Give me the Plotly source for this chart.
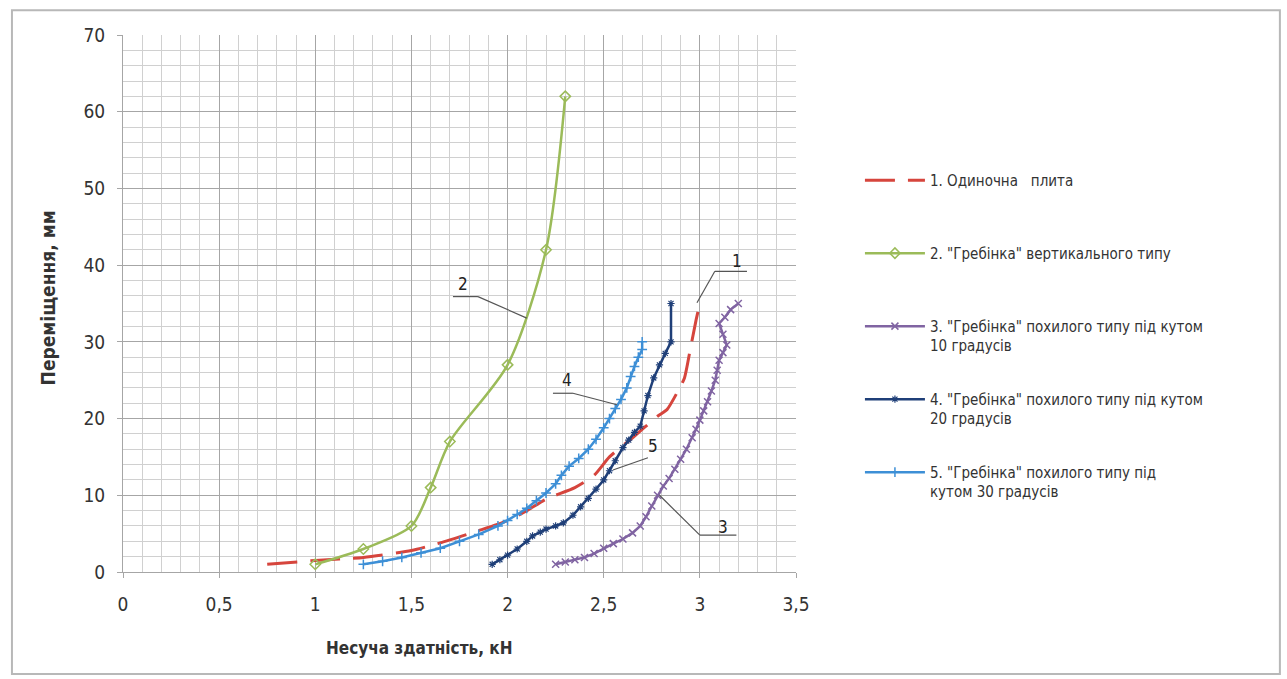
import plotly.graph_objects as go

# ---- data ----
s1_name = "1. Одиночна   плита"
s1_x = [0.75, 1.0, 1.25, 1.5, 1.65, 1.85, 2.0, 2.1, 2.2, 2.35, 2.45, 2.53, 2.65, 2.78, 2.83, 2.88, 2.92, 2.95, 2.98, 3.0]
s1_y = [1.0, 1.5, 1.9, 2.8, 3.8, 5.4, 6.7, 8.0, 9.5, 11.0, 12.6, 15.0, 17.5, 20.3, 21.2, 23.3, 25.3, 29.0, 32.8, 35.0]

s2_name = "2. \"Гребінка\" вертикального типу"
s2_x = [1.0, 1.25, 1.5, 1.6, 1.7, 2.0, 2.2, 2.3]
s2_y = [1.0, 3.0, 6.0, 11.0, 17.0, 27.0, 42.0, 62.0]

s3_name = "3. \"Гребінка\" похилого типу під кутом<br>10 градусів"
s3_x = [2.25, 2.3, 2.35, 2.4, 2.45, 2.5, 2.55, 2.6, 2.65, 2.69, 2.72, 2.75, 2.78, 2.81, 2.84, 2.87, 2.9, 2.93, 2.96, 2.98,
        3.0, 3.02, 3.04, 3.06, 3.08, 3.09, 3.1, 3.12, 3.14, 3.12, 3.1, 3.13, 3.16, 3.2]
s3_y = [1.0, 1.3, 1.6, 1.9, 2.4, 3.1, 3.7, 4.3, 5.1, 6.0, 7.2, 8.6, 10.0, 11.2, 12.2, 13.4, 14.7, 16.0, 17.5, 18.6,
        19.8, 21.0, 22.2, 23.6, 25.0, 26.3, 27.6, 28.6, 29.6, 31.0, 32.4, 33.2, 34.2, 35.0]

s4_name = "4. \"Гребінка\" похилого типу під кутом<br>20 градусів"
s4_x = [1.92, 1.96, 2.0, 2.05, 2.1, 2.13, 2.17, 2.2, 2.25, 2.29, 2.34, 2.38, 2.42, 2.46, 2.5, 2.53, 2.56, 2.6, 2.63,
        2.66, 2.69, 2.71, 2.73, 2.76, 2.79, 2.82, 2.85, 2.85]
s4_y = [1.0, 1.6, 2.2, 3.0, 4.0, 4.7, 5.2, 5.6, 6.0, 6.4, 7.4, 8.5, 9.6, 10.8, 12.0, 13.2, 14.5, 16.2, 17.2,
        18.2, 19.0, 21.0, 23.0, 25.3, 27.0, 28.5, 30.0, 35.0]

s5_name = "5. \"Гребінка\" похилого типу під<br>кутом 30 градусів"
s5_x = [1.25, 1.35, 1.45, 1.55, 1.65, 1.75, 1.85, 1.95, 2.0, 2.05, 2.1, 2.15, 2.2, 2.25, 2.28, 2.32, 2.37, 2.42, 2.46,
        2.5, 2.53, 2.56, 2.59, 2.62, 2.64, 2.66, 2.68, 2.7, 2.7]
s5_y = [1.0, 1.4, 1.9, 2.5, 3.1, 4.0, 4.9, 6.0, 6.7, 7.5, 8.3, 9.3, 10.3, 11.5, 12.6, 13.8, 14.8, 16.0, 17.3,
        18.8, 20.0, 21.3, 22.5, 24.0, 25.5, 26.8, 28.0, 29.0, 30.0]

x_ticks = [0, 0.5, 1, 1.5, 2, 2.5, 3, 3.5]
x_tick_labels = ["0", "0,5", "1", "1,5", "2", "2,5", "3", "3,5"]
y_ticks = [0, 10, 20, 30, 40, 50, 60, 70]

x_title = "Несуча здатність, кН"
y_title = "Переміщення, мм"

# callout labels: (text, label x, label y, leader path points)
callouts = [
    ("1", 3.193, 40.5, [(3.245, 39.2), (3.078, 39.2), (2.985, 35.1)]),
    ("2", 1.768, 37.6, [(1.716, 35.9), (1.846, 35.9), (2.1, 33.1)]),
    ("3", 3.12, 5.9, [(3.19, 4.8), (3.0, 4.8), (2.79, 10.0)]),
    ("4", 2.309, 25.0, [(2.236, 23.3), (2.34, 23.3), (2.569, 21.8)]),
    ("5", 2.756, 16.4, [(2.73, 14.9), (2.548, 13.3)]),
]

# ---- styling ----
FONT = "Liberation Sans Narrow, Arial Narrow, DejaVu Sans Condensed, sans-serif"
c_red = "#d6453d"
c_green = "#9bbb59"
c_purple = "#8064a2"
c_navy = "#1f3f78"
c_blue = "#3d8fd6"

fig = go.Figure()

fig.add_trace(go.Scatter(x=s1_x, y=s1_y, name=s1_name + "<br> ", mode="lines", legendgroup="g1",
                         line=dict(color=c_red, width=3, dash="30px,13px", shape="spline", smoothing=0.6)))
fig.add_trace(go.Scatter(x=s2_x, y=s2_y, name=s2_name + "<br> ", mode="lines+markers", legendgroup="g2",
                         line=dict(color=c_green, width=2.5, shape="spline", smoothing=0.8),
                         marker=dict(symbol="diamond-open", size=8, color=c_green, line=dict(width=1.5))))
fig.add_trace(go.Scatter(x=s3_x, y=s3_y, name=s3_name, mode="lines+markers", legendgroup="g3",
                         line=dict(color=c_purple, width=2.5),
                         marker=dict(symbol="x-thin-open", size=7, color=c_purple, line=dict(width=1.5, color=c_purple))))
fig.add_trace(go.Scatter(x=s4_x, y=s4_y, name=s4_name, mode="lines+markers", legendgroup="g4",
                         line=dict(color=c_navy, width=2.5),
                         marker=dict(symbol="asterisk-open", size=6, color=c_navy, line=dict(width=1.2, color=c_navy))))
fig.add_trace(go.Scatter(x=s5_x, y=s5_y, name=s5_name, mode="lines+markers", legendgroup="g5",
                         line=dict(color=c_blue, width=2.5),
                         marker=dict(symbol="cross-thin-open", size=7, color=c_blue, line=dict(width=1.5, color=c_blue))))

annotations = []
shapes = []
for text, lx, ly, path in callouts:
    annotations.append(dict(x=lx, y=ly, xref="x", yref="y", text=text, showarrow=False,
                            xanchor="center", yanchor="middle",
                            font=dict(family=FONT, size=17, color="#222222")))
    for (xa, ya), (xb, yb) in zip(path[:-1], path[1:]):
        shapes.append(dict(type="line", xref="x", yref="y", x0=xa, y0=ya, x1=xb, y1=yb,
                           line=dict(color="#555555", width=1.2)))

# axis titles (placed as in the reference)
annotations.append(dict(x=-0.111, y=0.51, xref="paper", yref="paper", text="<b>" + y_title + "</b>",
                        textangle=-90, showarrow=False, xanchor="center", yanchor="middle",
                        font=dict(family=FONT, size=19, color="#333333")))
annotations.append(dict(x=0.441, y=-0.141, xref="paper", yref="paper", text="<b>" + x_title + "</b>",
                        showarrow=False, xanchor="center", yanchor="middle",
                        font=dict(family=FONT, size=17, color="#333333")))

# outer chart border
shapes.append(dict(type="rect", xref="paper", yref="paper", x0=-0.165, y0=-0.19, x1=1.719, y1=1.046,
                   line=dict(color="#b8b8b8", width=2), layer="below"))

fig.update_layout(
    width=1287, height=679,
    margin=dict(l=123, r=491, t=35, b=107),
    paper_bgcolor="white", plot_bgcolor="white",
    separators=", ",
    font=dict(family=FONT, color="#333333", size=15),
    showlegend=True,
    legend=dict(x=1.095, y=0.76, xanchor="left", yanchor="top", valign="top",
                font=dict(family=FONT, size=15, color="#333333"),
                tracegroupgap=31, itemwidth=60, bgcolor="rgba(0,0,0,0)"),
    annotations=annotations,
    shapes=shapes,
)

fig.update_xaxes(range=[0, 3.5], tickvals=x_ticks, ticktext=x_tick_labels,
                 showgrid=True, gridcolor="#a6a6a6", gridwidth=1,
                 minor=dict(dtick=0.1, showgrid=True, gridcolor="#d0d0d0", gridwidth=1),
                 showline=True, linecolor="#a6a6a6", zeroline=False,
                 ticks="outside", ticklen=5, tickcolor="#a6a6a6", ticklabelstandoff=10,
                 tickfont=dict(family=FONT, size=19, color="#333333"))
fig.update_yaxes(range=[0, 70], tickvals=y_ticks,
                 showgrid=True, gridcolor="#a6a6a6", gridwidth=1,
                 minor=dict(dtick=2, showgrid=True, gridcolor="#d0d0d0", gridwidth=1),
                 showline=True, linecolor="#a6a6a6", zeroline=False,
                 ticks="outside", ticklen=5, tickcolor="#a6a6a6", ticklabelstandoff=8,
                 tickfont=dict(family=FONT, size=19, color="#333333"))

fig.write_html("out.html")
